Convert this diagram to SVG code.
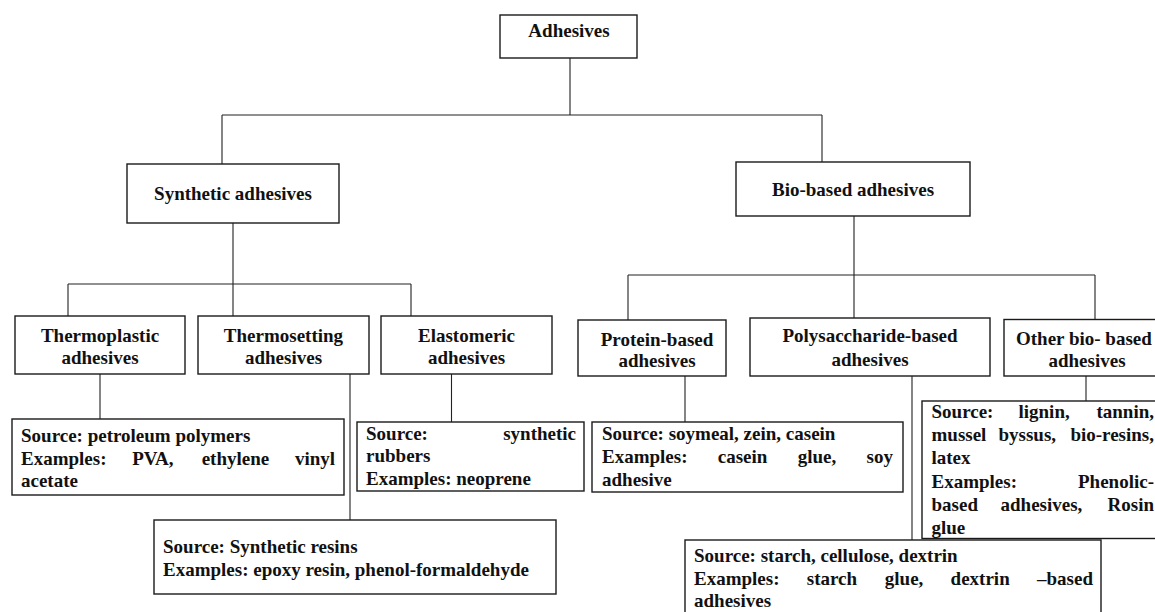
<svg xmlns="http://www.w3.org/2000/svg" width="1155" height="612" viewBox="0 0 1155 612">
<style>
.box{fill:#fff;stroke:#1a1a1a;stroke-width:1.4}
.ln{fill:none;stroke:#222;stroke-width:1.1}
text{font-family:"Liberation Serif","Times New Roman",serif;font-weight:bold;font-size:19px;fill:#111}
.c{text-anchor:middle}
.e{text-anchor:end}
</style>
<rect width="1155" height="612" fill="#fff"/>
<g id="connectors">
<path class="ln" d="M570 58V115M222 115H822M222 115V164M822 115V162"/>
<path class="ln" d="M233 223V316M68 284H411M68 284V316M411 284V316"/>
<path class="ln" d="M854 216V318M628 275H1095M628 275V320M1095 275V320"/>
<path class="ln" d="M100 374V419M350 374V520M451.5 374V422M685 376V422M912 376V540M1086 376V401"/>
</g>
<g id="adhesives"><rect class="box" x="500" y="15" width="137" height="43"/><text class="c" x="569" y="37">Adhesives</text></g>
<g id="synthetic"><rect class="box" x="127" y="164" width="212" height="59"/><text class="c" x="233" y="200">Synthetic adhesives</text></g>
<g id="biobased"><rect class="box" x="736" y="162" width="234" height="54"/><text class="c" x="853" y="196">Bio-based adhesives</text></g>
<g id="thermoplastic"><rect class="box" x="15" y="316" width="170" height="58"/><text class="c" x="100" y="342">Thermoplastic</text><text class="c" x="100" y="364">adhesives</text></g>
<g id="thermosetting"><rect class="box" x="198" y="316" width="171" height="58"/><text class="c" x="283.5" y="342">Thermosetting</text><text class="c" x="283.5" y="364">adhesives</text></g>
<g id="elastomeric"><rect class="box" x="381" y="316" width="171" height="58"/><text class="c" x="466.5" y="342">Elastomeric</text><text class="c" x="466.5" y="364">adhesives</text></g>
<g id="protein"><rect class="box" x="578" y="320" width="148" height="56"/><text class="c" x="657" y="346">Protein-based</text><text class="c" x="657" y="367">adhesives</text></g>
<g id="polysaccharide"><rect class="box" x="750" y="318" width="240" height="58"/><text class="c" x="870" y="342">Polysaccharide-based</text><text class="c" x="870" y="366">adhesives</text></g>
<g id="otherbio"><rect class="box" x="1004" y="319.5" width="170" height="56.5"/><text x="1016" y="345">Other bio- based</text><text class="c" x="1087" y="367">adhesives</text></g>
<g id="thermoplastic-src"><rect class="box" x="12" y="419" width="332" height="76"/>
<text x="21" y="442">Source: petroleum polymers</text>
<text y="465"><tspan x="21">Examples:</tspan><tspan x="132.2">PVA,</tspan><tspan x="201.7">ethylene</tspan></text><text class="e" x="335" y="465">vinyl</text>
<text x="21" y="487">acetate</text></g>
<g id="thermosetting-src"><rect class="box" x="154" y="520" width="402" height="74"/>
<text x="163" y="553">Source: Synthetic resins</text>
<text x="163" y="576">Examples: epoxy resin, phenol-formaldehyde</text></g>
<g id="elastomeric-src"><rect class="box" x="357" y="422" width="227" height="69"/>
<text x="366" y="440">Source:</text><text class="e" x="576" y="440">synthetic</text>
<text x="366" y="462">rubbers</text>
<text x="366" y="485">Examples: neoprene</text></g>
<g id="protein-src"><rect class="box" x="592" y="422" width="311" height="70"/>
<text x="602" y="440">Source: soymeal, zein, casein</text>
<text y="463"><tspan x="602">Examples:</tspan><tspan x="717.8">casein</tspan><tspan x="797.7">glue,</tspan></text><text class="e" x="893" y="463">soy</text>
<text x="602" y="486">adhesive</text></g>
<g id="otherbio-src"><rect class="box" x="922" y="401" width="250" height="137.5"/>
<text y="418"><tspan x="931.5">Source:</tspan><tspan x="1018.5">lignin,</tspan></text><text class="e" x="1154" y="418">tannin,</text>
<text y="441"><tspan x="931.5">mussel</tspan><tspan x="998.5">byssus,</tspan></text><text class="e" x="1154" y="441">bio-resins,</text>
<text x="931.5" y="464">latex</text>
<text x="931.5" y="488">Examples:</text><text class="e" x="1154" y="488">Phenolic-</text>
<text y="511"><tspan x="931.5">based</tspan><tspan x="1000.5">adhesives,</tspan></text><text class="e" x="1154" y="511">Rosin</text>
<text x="931.5" y="534">glue</text></g>
<g id="polysaccharide-src"><rect class="box" x="685" y="540" width="416" height="82"/>
<text x="694" y="562">Source: starch, cellulose, dextrin</text>
<text y="585"><tspan x="694">Examples:</tspan><tspan x="806.8">starch</tspan><tspan x="884.8">glue,</tspan><tspan x="950.6">dextrin</tspan></text><text class="e" x="1093" y="585">–based</text>
<text x="694" y="607">adhesives</text></g>
</svg>
